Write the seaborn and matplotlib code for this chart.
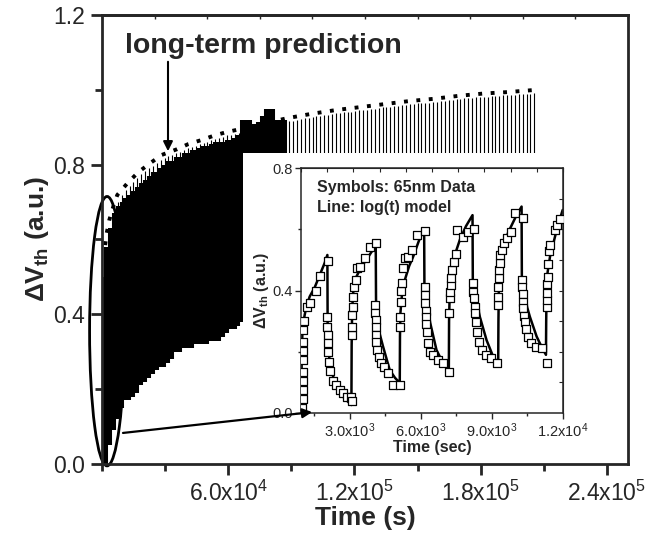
import numpy as np
import matplotlib
matplotlib.use('Agg')
import matplotlib.pyplot as plt
import seaborn as sns
from matplotlib.patches import Ellipse, Rectangle
from matplotlib.ticker import FixedLocator, MultipleLocator, FuncFormatter

sns.set_style('ticks')
plt.rcParams['font.family'] = ['Liberation Sans', 'DejaVu Sans']
plt.rcParams['mathtext.fontset'] = 'custom'
plt.rcParams['mathtext.rm'] = 'Liberation Sans'
plt.rcParams['mathtext.bf'] = 'Liberation Sans:bold'
plt.rcParams['mathtext.it'] = 'Liberation Sans:italic'

# ---------------- data ----------------
cycle_period = 1850.0      # s between stress/recovery cycles (main panel)
first_cycle = 1000.0       # s, start of first cycle

# 65nm data in main panel: per-cycle lowest / highest value
data_top = [0.50, 0.58, 0.63, 0.67, 0.69, 0.70, 0.71, 0.72, 0.73, 0.74,
            0.75, 0.76, 0.77, 0.78, 0.78, 0.79, 0.80, 0.81, 0.81, 0.82,
            0.82, 0.83, 0.83, 0.84, 0.84, 0.845, 0.85, 0.85, 0.855, 0.86,
            0.86, 0.86, 0.865, 0.865, 0.87, 0.88, 0.92, 0.92, 0.91, 0.91,
            0.915, 0.93, 0.95, 0.95, 0.92, 0.92, 0.92]
data_bottom = [0.00, 0.05, 0.09, 0.12, 0.15, 0.17, 0.17, 0.18, 0.19, 0.21,
               0.22, 0.23, 0.24, 0.25, 0.26, 0.26, 0.27, 0.28, 0.30, 0.30,
               0.31, 0.31, 0.31, 0.32, 0.32, 0.32, 0.32, 0.33, 0.33, 0.33,
               0.34, 0.35, 0.36, 0.36, 0.37, 0.38, 0.39, 0.40, 0.40, 0.41,
               0.41, 0.42, 0.42, 0.43, 0.43, 0.44, 0.44]

# log(t) model: per-cycle peak value (main panel)
model_peak = [0.540, 0.628, 0.669, 0.700, 0.719, 0.733, 0.742, 0.754, 0.764, 0.774,
              0.783, 0.790, 0.797, 0.805, 0.812, 0.819, 0.823, 0.827, 0.831, 0.834,
              0.840, 0.844, 0.848, 0.851, 0.855, 0.858, 0.861, 0.865, 0.869, 0.872,
              0.875, 0.878, 0.880, 0.883, 0.885, 0.888, 0.890, 0.893, 0.896, 0.898,
              0.900, 0.903, 0.905, 0.907, 0.910, 0.912, 0.914, 0.916, 0.918, 0.920,
              0.922, 0.924, 0.926, 0.927, 0.929, 0.931, 0.932, 0.934, 0.936, 0.937,
              0.939, 0.940, 0.941, 0.942, 0.944, 0.945, 0.946, 0.947, 0.949, 0.950,
              0.951, 0.953, 0.954, 0.955, 0.956, 0.958, 0.959, 0.960, 0.962, 0.963,
              0.964, 0.965, 0.966, 0.966, 0.967, 0.968, 0.970, 0.971, 0.972, 0.973,
              0.975, 0.976, 0.977, 0.978, 0.979, 0.980, 0.981, 0.982, 0.982, 0.983,
              0.984, 0.984, 0.985, 0.986, 0.986, 0.987, 0.988, 0.989, 0.990, 0.990,
              0.991]
model_floor = 0.45

# long-term prediction (dotted)
pred_time = [1500, 2234, 3470, 5371, 7272, 12025, 17253, 23147, 28375, 35505,
             41018, 47387, 52901, 58462, 64023, 87788, 99670, 111220, 122960,
             134510, 146060, 157660, 169540, 181090, 192830, 204240]
pred_val = [0.585, 0.617, 0.652, 0.688, 0.719, 0.750, 0.780, 0.805, 0.826, 0.841,
            0.855, 0.866, 0.877, 0.886, 0.893, 0.924, 0.936, 0.946, 0.954,
            0.962, 0.970, 0.976, 0.984, 0.990, 0.994, 0.999]

# inset: 65nm data symbols
inset_data_t = [990, 1000, 1000, 1000, 1010, 1010, 1010, 1020, 1030, 1040, 1183, 1325, 1550, 1748, 2086,
                2044, 2044, 2060, 2070, 2080, 2100, 2142, 2282, 2423, 2565, 2705, 2875, 3060,
                3080, 3100, 3100, 3100, 3130, 3130, 3157, 3242, 3298, 3440, 3622, 3834, 4088,
                4046, 4046, 4088, 4088, 4117, 4117, 4159, 4230, 4328, 4426, 4610, 4820, 5103,
                5130, 5130, 5173, 5173, 5215, 5243, 5315, 5455, 5640, 5836, 6160,
                6160, 6160, 6175, 6203, 6230, 6230, 6260, 6302, 6400, 6513, 6725, 6936, 7190,
                7190, 7218, 7230, 7260, 7288, 7330, 7387, 7472, 7527, 7780, 7992, 8233,
                8205, 8215, 8230, 8276, 8290, 8318, 8374, 8459, 8560, 8741, 8940, 9193,
                9262, 9262, 9270, 9280, 9290, 9333, 9340, 9418, 9502, 9615, 9784, 9968, 10320,
                10278, 10285, 10290, 10320, 10325, 10350, 10390, 10433, 10505, 10632, 10843, 11097, 11336,
                11308, 11310, 11336, 11340, 11350, 11378, 11406, 11448, 11660, 11731, 11871]
inset_data_v = [0.015, 0.045, 0.075, 0.105, 0.135, 0.173, 0.203, 0.233, 0.271, 0.300, 0.347, 0.358, 0.400, 0.447, 0.497,
                0.314, 0.282, 0.255, 0.230, 0.200, 0.167, 0.138, 0.105, 0.091, 0.075, 0.064, 0.053, 0.053,
                0.040, 0.255, 0.282, 0.320, 0.347, 0.380, 0.412, 0.434, 0.472, 0.478, 0.505, 0.543, 0.554,
                0.353, 0.325, 0.304, 0.282, 0.255, 0.233, 0.206, 0.184, 0.162, 0.151, 0.132, 0.091, 0.091,
                0.282, 0.314, 0.363, 0.400, 0.423, 0.472, 0.505, 0.510, 0.532, 0.581, 0.594,
                0.412, 0.385, 0.358, 0.334, 0.312, 0.290, 0.265, 0.230, 0.200, 0.190, 0.173, 0.162, 0.135,
                0.325, 0.374, 0.396, 0.418, 0.440, 0.467, 0.494, 0.520, 0.597, 0.576, 0.592, 0.600,
                0.423, 0.396, 0.374, 0.347, 0.325, 0.298, 0.265, 0.233, 0.206, 0.190, 0.178, 0.162,
                0.353, 0.380, 0.410, 0.440, 0.467, 0.491, 0.516, 0.532, 0.556, 0.573, 0.592, 0.654, 0.636,
                0.434, 0.412, 0.390, 0.363, 0.342, 0.318, 0.296, 0.273, 0.247, 0.228, 0.215, 0.211, 0.162,
                0.347, 0.369, 0.393, 0.421, 0.445, 0.487, 0.530, 0.549, 0.597, 0.614, 0.632]

# inset: log(t) model line
inset_model_t = [945, 960, 1000, 1085, 1158, 1296, 1508, 1719, 1931, 2044,
                 2056, 2080, 2150, 2283, 2450, 2650, 2847, 3060,
                 3070, 3090, 3128, 3270, 3500, 3694, 3900, 4088,
                 4100, 4150, 4250, 4397, 4680, 4900, 5103,
                 5112, 5130, 5200, 5315, 5500, 5667, 5900, 6133,
                 6145, 6200, 6280, 6372, 6654, 6936, 7176,
                 7186, 7218, 7260, 7358, 7640, 7900, 8177,
                 8190, 8250, 8348, 8487, 8770, 9050, 9262,
                 9272, 9291, 9330, 9405, 9685, 10000, 10250,
                 10262, 10320, 10430, 10602, 10885, 11100, 11280,
                 11290, 11308, 11350, 11450, 11731, 11985]
inset_model_v = [0.02, 0.20, 0.28, 0.32, 0.347, 0.38, 0.41, 0.45, 0.49, 0.516,
                 0.28, 0.22, 0.16, 0.12, 0.085, 0.058, 0.042, 0.026,
                 0.22, 0.33, 0.39, 0.445, 0.48, 0.50, 0.525, 0.545,
                 0.37, 0.31, 0.26, 0.217, 0.14, 0.115, 0.098,
                 0.25, 0.326, 0.39, 0.434, 0.48, 0.51, 0.56, 0.603,
                 0.41, 0.36, 0.33, 0.30, 0.206, 0.162, 0.135,
                 0.30, 0.41, 0.46, 0.50, 0.565, 0.61, 0.646,
                 0.42, 0.39, 0.369, 0.314, 0.238, 0.184, 0.162,
                 0.30, 0.42, 0.47, 0.52, 0.59, 0.64, 0.674,
                 0.43, 0.40, 0.36, 0.314, 0.25, 0.215, 0.19,
                 0.30, 0.41, 0.46, 0.51, 0.597, 0.663]

main_xticks = [6.0e4, 1.2e5, 1.8e5, 2.4e5]
main_yticks = [0.0, 0.4, 0.8, 1.2]
inset_xticks = [3.0e3, 6.0e3, 9.0e3, 1.2e4]
inset_yticks = [0.0, 0.4, 0.8]


def sci_fmt(v, pos=None):
    exp = int(np.floor(np.log10(v)))
    mant = v / 10 ** exp
    return f'{mant:.1f}x10$^{{{exp}}}$'


# ---------------- figure ----------------
fig = plt.figure(figsize=(6.47, 5.35), dpi=100)
ax = fig.add_axes([102 / 647, 71 / 535, 526 / 647, 449 / 535])
ax.set_zorder(0)

data_t = first_cycle + cycle_period * np.arange(len(data_top))
model_t = first_cycle + 1000 + cycle_period * np.arange(len(model_peak))

ax.vlines(model_t, model_floor, model_peak, colors='black', linewidth=0.8)
ax.vlines(data_t, data_bottom, data_top, colors='black', linewidth=5.8,
          capstyle='butt')
sns.lineplot(x=pred_time, y=pred_val, ax=ax, color='black', linewidth=2.8,
             linestyle=(0, (1.0, 2.2)), estimator=None)

ax.set_xlim(0, 2.5e5)
ax.set_ylim(0, 1.2)
ax.xaxis.set_major_locator(FixedLocator(main_xticks))
ax.xaxis.set_major_formatter(FuncFormatter(sci_fmt))
ax.xaxis.set_minor_locator(MultipleLocator(3e4))
ax.yaxis.set_major_locator(FixedLocator(main_yticks))
ax.yaxis.set_major_formatter(FuncFormatter(lambda v, p: f'{v:.1f}'))
ax.yaxis.set_minor_locator(MultipleLocator(0.2))
ax.tick_params(which='major', length=8, width=2, labelsize=16.5, pad=4)
ax.tick_params(which='minor', length=5, width=2)
for s in ax.spines.values():
    s.set_linewidth(2)
top = ax.secondary_xaxis('top')
top.xaxis.set_major_locator(FixedLocator(np.arange(0, 2.5e5 + 1, 2.5e4)))
top.tick_params(direction='in', length=3, width=1, labeltop=False)
top.spines['top'].set_linewidth(2)

ax.set_xlabel('Time (s)', fontsize=19, fontweight='bold', labelpad=0)
ax.set_ylabel(r'$\mathbf{\Delta V_{th}}$ (a.u.)', fontsize=19, fontweight='bold',
              labelpad=2)

ax.text(10900, 1.099, 'long-term prediction', fontsize=20.5, fontweight='bold',
        va='baseline', ha='left')
ax.annotate('', xy=(31370, 0.836), xytext=(31370, 1.075),
            arrowprops=dict(arrowstyle='-|>', color='black', lw=1.5,
                            mutation_scale=14, shrinkA=0, shrinkB=0))

ell = Ellipse((2400, 0.355), width=16600, height=0.72, fill=False,
              edgecolor='black', linewidth=2, clip_on=False)
ax.add_patch(ell)

# white panel behind the inset
fig.patches.append(Rectangle((243 / 647, 86 / 535), 342 / 647, 296 / 535,
                             transform=fig.transFigure, facecolor='white',
                             edgecolor='none', zorder=1))

# ---------------- inset ----------------
ins = fig.add_axes([301 / 647, 122 / 535, 262 / 647, 245 / 535])
ins.set_zorder(2)
sns.lineplot(x=inset_model_t, y=inset_model_v, ax=ins, color='black',
             linewidth=1.8, estimator=None, sort=False, zorder=2)
sns.scatterplot(x=inset_data_t, y=inset_data_v, ax=ins, marker='s', s=30,
                color='white', edgecolor='black', linewidth=0.9, zorder=3)
ins.set_xlim(930, 12000)
ins.set_ylim(0, 0.8)
ins.xaxis.set_major_locator(FixedLocator(inset_xticks))
ins.xaxis.set_major_formatter(FuncFormatter(sci_fmt))
ins.xaxis.set_minor_locator(FixedLocator([1.5e3, 4.5e3, 7.5e3, 1.05e4]))
ins.yaxis.set_major_locator(FixedLocator(inset_yticks))
ins.yaxis.set_major_formatter(FuncFormatter(lambda v, p: f'{v:.1f}'))
ins.yaxis.set_minor_locator(FixedLocator([0.2, 0.6]))
ins.tick_params(which='major', length=4, width=1, labelsize=10.5, pad=2)
ins.tick_params(which='minor', length=2.5, width=1)
for s in ins.spines.values():
    s.set_linewidth(1.1)
itop = ins.secondary_xaxis('top')
itop.xaxis.set_major_locator(FixedLocator(np.linspace(930, 12000, 11)))
itop.tick_params(direction='in', length=3, width=0.8, labeltop=False)
iright = ins.secondary_yaxis('right')
iright.yaxis.set_major_locator(FixedLocator(np.arange(0.1, 0.8, 0.1)))
iright.tick_params(direction='in', length=3, width=0.8, labelright=False)
ins.set_xlabel('Time (sec)', fontsize=11.5, fontweight='bold', labelpad=0)
ins.set_ylabel(r'$\mathbf{\Delta V_{th}}$ (a.u.)', fontsize=11.5,
               fontweight='bold', labelpad=1)
ins.text(0.06, 0.92, 'Symbols: 65nm Data', transform=ins.transAxes,
         fontsize=11.5, fontweight='bold', va='center', ha='left')
ins.text(0.06, 0.84, 'Line: log(t) model', transform=ins.transAxes,
         fontsize=11.5, fontweight='bold', va='center', ha='left')

# arrow from the ellipse to the inset
ins.annotate('', xy=(1400, 0.003), xycoords='data',
             xytext=(9980, 0.083), textcoords=ax.transData,
             arrowprops=dict(arrowstyle='-|>', color='black', lw=1.6,
                             mutation_scale=14, shrinkA=0, shrinkB=0),
             annotation_clip=False)

fig.savefig('out.png', dpi=100)
